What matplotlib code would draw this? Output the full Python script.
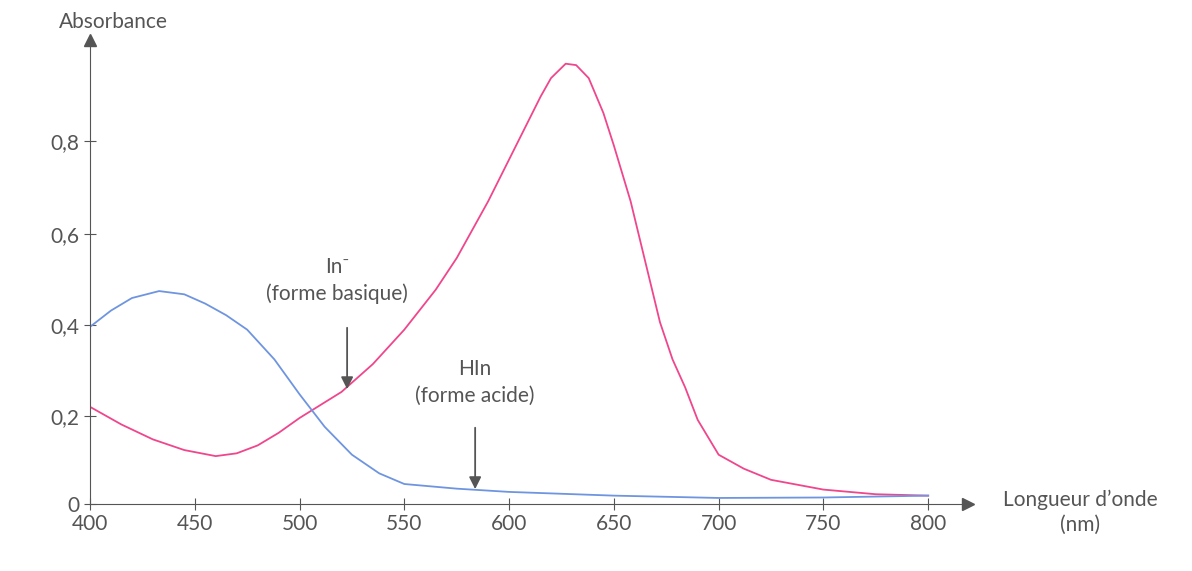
import matplotlib
matplotlib.use("Agg")
import matplotlib.pyplot as plt

pink_x = [400,415,430,445,460,470,480,490,500,510,520,535,550,565,575,590,600,610,615,620,627,632,638,645,650,658,665,672,678,684,690,700,712,725,750,775,800]
pink_y = [0.228,0.19,0.158,0.135,0.122,0.128,0.145,0.172,0.204,0.232,0.26,0.32,0.394,0.48,0.548,0.67,0.76,0.85,0.895,0.935,0.966,0.963,0.935,0.86,0.79,0.67,0.54,0.41,0.33,0.27,0.2,0.125,0.095,0.071,0.05,0.04,0.037]
blue_x = [400,410,420,433,445,455,465,475,488,500,512,525,538,550,575,600,650,700,750,800]
blue_y = [0.40,0.435,0.462,0.477,0.47,0.45,0.425,0.394,0.33,0.255,0.185,0.125,0.085,0.062,0.052,0.045,0.037,0.032,0.033,0.037]
xticks = [400,450,500,550,600,650,700,750,800]
yticks = [0.019,0.209,0.404,0.6,0.8]
ylabels = ["0","0,2","0,4","0,6","0,8"]

gray = "#555555"
plt.rcParams['font.family'] = ['Lato', 'DejaVu Sans']
fig = plt.figure(figsize=(11.92,5.71), dpi=100)
ax = fig.add_axes([90/1192, 1-504/571, 878/1192, 464/571])
ax.set_xlim(400, 819)
ax.set_ylim(0.019, 1.017)
ax.plot(pink_x, pink_y, color="#f0468c", lw=1.3)
ax.plot(blue_x, blue_y, color="#6f95e0", lw=1.3)
for s in ["top","right"]:
    ax.spines[s].set_visible(False)
for s in ["left","bottom"]:
    ax.spines[s].set_color(gray)
ax.plot(1, 0.019, ">", color=gray, transform=ax.get_yaxis_transform(), clip_on=False, ms=9)
ax.plot(400, 1, "^", color=gray, transform=ax.get_xaxis_transform(), clip_on=False, ms=9)
ax.set_xticks(xticks)
ax.set_xticklabels([str(v) for v in xticks])
ax.set_yticks(yticks)
ax.set_yticklabels(ylabels)
ax.tick_params(colors=gray, labelsize=15, direction="inout", length=8)
ax.text(113/1192, 1-22/571, "Absorbance", transform=fig.transFigure, ha="center", va="center", fontsize=15, color=gray)
ax.text(1080/1192, 1-512/571, "Longueur d’onde\n(nm)", transform=fig.transFigure, ha="center", va="center", fontsize=15, color=gray, linespacing=1.3)
ax.annotate("", xy=(522.7,0.26), xytext=(522.7,0.404), arrowprops=dict(arrowstyle="-|>", color=gray, lw=1.3, mutation_scale=18))
ax.text(518, 0.5, "In⁻\n(forme basique)", ha="center", va="center", fontsize=15, color=gray, linespacing=1.4)
ax.annotate("", xy=(583.8,0.045), xytext=(583.8,0.189), arrowprops=dict(arrowstyle="-|>", color=gray, lw=1.3, mutation_scale=18))
ax.text(583.8, 0.28, "HIn\n(forme acide)", ha="center", va="center", fontsize=15, color=gray, linespacing=1.4)
fig.savefig("out.png", dpi=100)
